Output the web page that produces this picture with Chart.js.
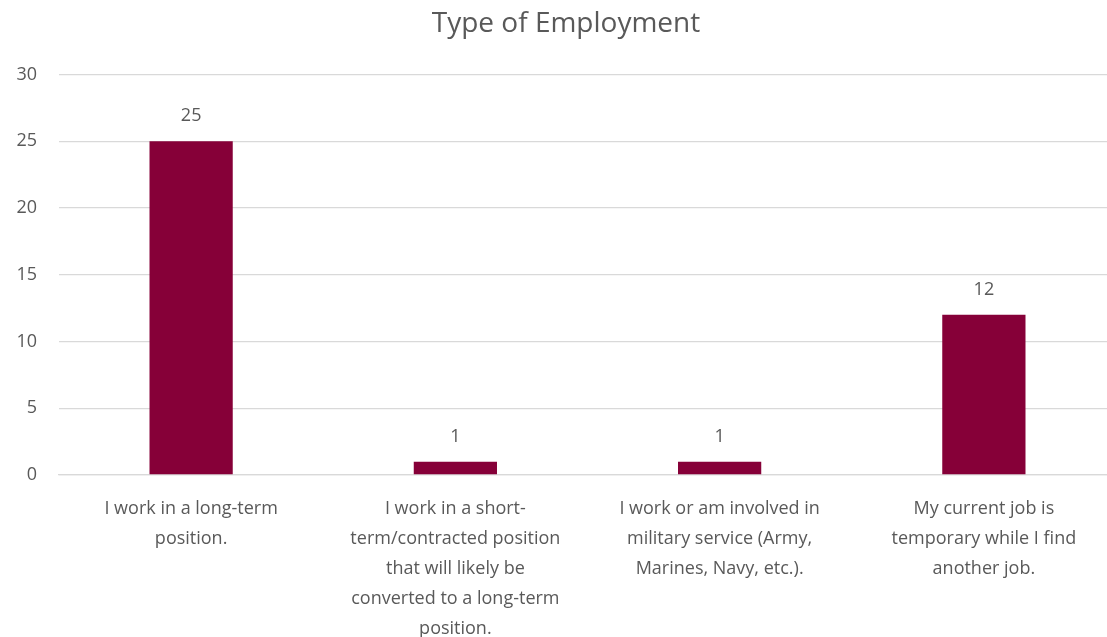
<!DOCTYPE html>
<html>
<head>
<meta charset="utf-8">
<script src="https://cdn.jsdelivr.net/npm/chart.js@4"></script>
<style>
    html, body { margin: 0; padding: 0; background: #fff; overflow: hidden; }
    /* the source picture is cropped on the right, so the chart runs a bit past the edge */
    #wrap { width: 1116px; height: 637px; }
</style>
</head>
<body>
<div id="wrap"><canvas id="employmentChart"></canvas></div>
<script>
const categories = [
    ['I work in a long-term', 'position.'],
    ['I work in a short-', 'term/contracted position', 'that will likely be', 'converted to a long-term', 'position.'],
    ['I work or am involved in', 'military service (Army,', 'Marines, Navy, etc.).'],
    ['My current job is', 'temporary while I find', 'another job.']
];
const counts = [25, 1, 1, 12];
const yTicks = [0, 5, 10, 15, 20, 25, 30];

const textColor = '#595959';
const fontFamily = '"Open Sans", Lato, sans-serif';

// draw the value above each bar
const valueLabels = {
    id: 'valueLabels',
    afterDatasetsDraw(chart) {
        const ctx = chart.ctx;
        ctx.save();
        ctx.fillStyle = textColor;
        ctx.font = `18px ${fontFamily}`;
        ctx.textAlign = 'center';
        ctx.textBaseline = 'middle';
        chart.getDatasetMeta(0).data.forEach((bar, i) => {
            ctx.fillText(counts[i], bar.x, bar.y - 25);
        });
        ctx.restore();
    }
};

const ctx = document.getElementById('employmentChart').getContext('2d');
new Chart(ctx, {
    type: 'bar',
    data: {
        labels: categories,
        datasets: [{
            label: 'Type of Employment',
            data: counts,
            backgroundColor: '#860038',
            categoryPercentage: 0.63,
            barPercentage: 0.5
        }]
    },
    options: {
        responsive: true,
        maintainAspectRatio: false,
        animation: false,
        layout: { padding: { left: 16, right: 0, top: 3, bottom: 0 } },
        plugins: {
            legend: { display: false },
            tooltip: { enabled: false },
            title: {
                display: true,
                text: 'Type of Employment',
                color: textColor,
                font: { family: fontFamily, size: 28, weight: 'normal' },
                padding: { top: 4, bottom: 34 }
            }
        },
        scales: {
            y: {
                min: 0,
                max: 30,
                afterBuildTicks: axis => {
                    axis.ticks = yTicks.map(v => ({ value: v }));
                },
                afterFit: axis => {
                    axis.width = 43;
                },
                grid: { color: '#d9d9d9', lineWidth: 1.3, drawTicks: false },
                border: { display: false },
                ticks: {
                    color: textColor,
                    padding: 22,
                    font: { family: fontFamily, size: 18 }
                }
            },
            x: {
                // long wrapped labels: keep them from pushing the plot inwards
                afterFit: axis => {
                    axis.paddingLeft = 0;
                    axis.paddingRight = 0;
                    axis.height = 162;
                },
                grid: { display: false },
                border: { color: '#d9d9d9', width: 1.3 },
                ticks: {
                    color: textColor,
                    padding: 11,
                    maxRotation: 0,
                    autoSkip: false,
                    font: { family: fontFamily, size: 18, lineHeight: 1.667 }
                }
            }
        }
    },
    plugins: [valueLabels]
});
</script>
</body>
</html>
